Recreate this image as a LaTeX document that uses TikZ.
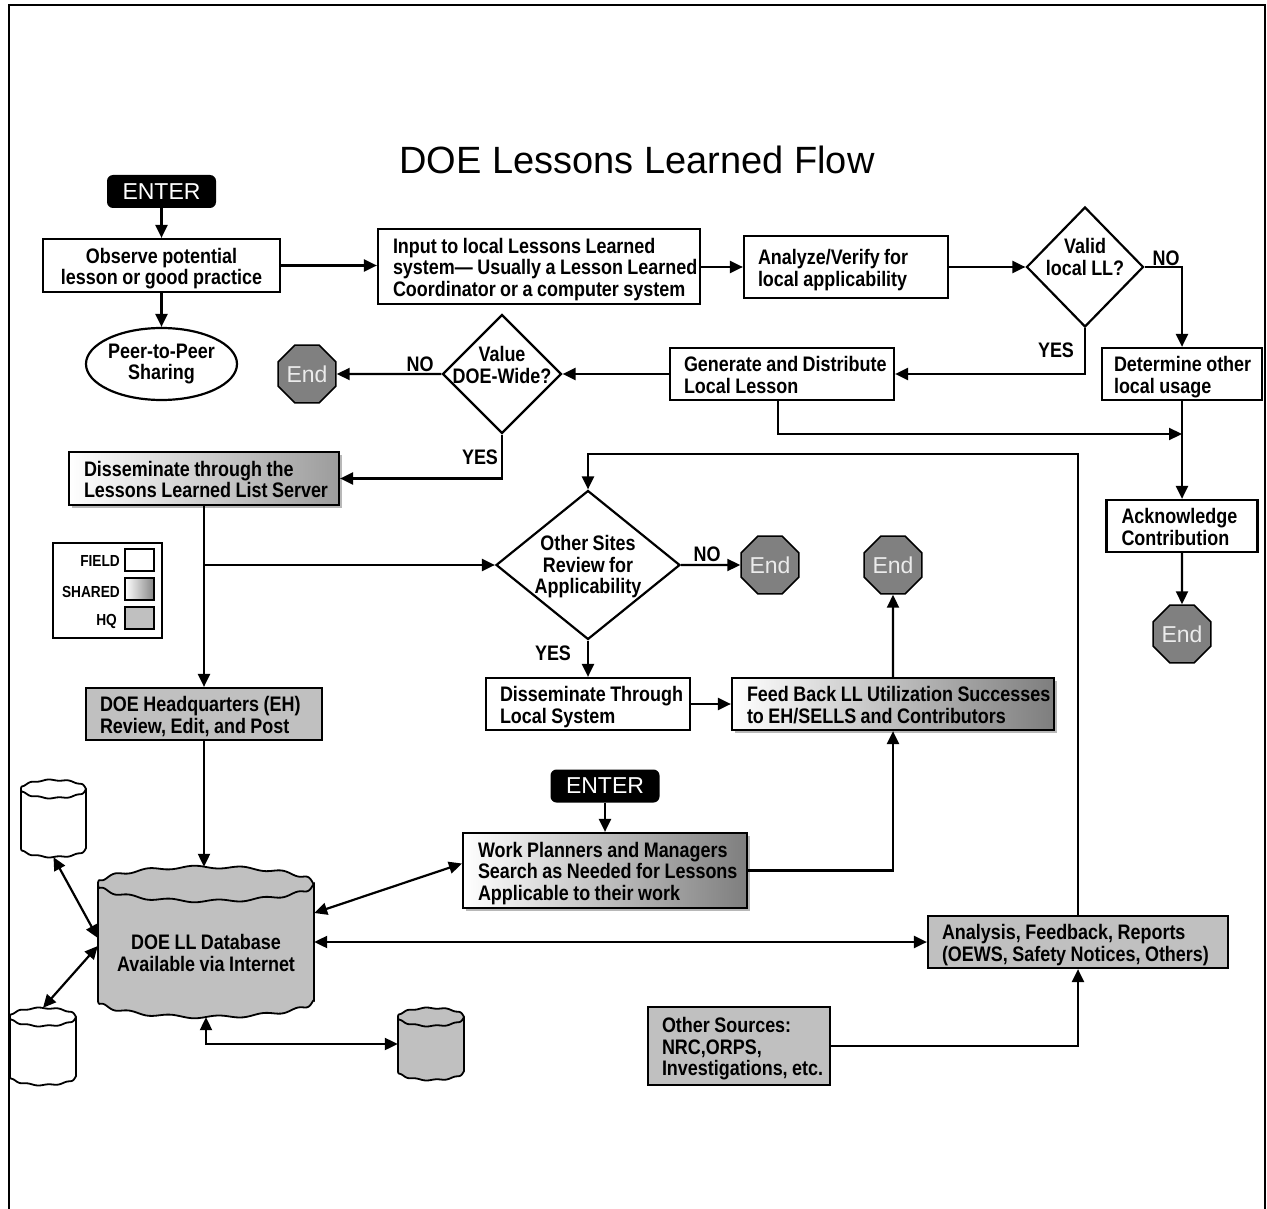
\documentclass[tikz,border=0pt]{standalone}
\usepackage{fontspec}
\setmainfont{Liberation Sans}
\newfontfamily\nar[FakeStretch=0.855,WordSpace=0.9]{Liberation Sans}
\usetikzlibrary{shapes.geometric,arrows.meta,calc,shadows}
\definecolor{gA}{HTML}{C0C0C0}
\definecolor{gB}{HTML}{808080}
\definecolor{gC}{HTML}{7E7E7E}
\definecolor{gD}{HTML}{9C9C9C}
\definecolor{gE}{HTML}{858585}
% left-aligned text block of fixed width
\newcommand\tl[2]{\makebox[#1][l]{\raisebox{-4pt}[\height][\depth]{\begin{tabular}{@{}l@{}}#2\end{tabular}}}}
\newcommand\tc[1]{\raisebox{-4pt}[\height][\depth]{\begin{tabular}{@{}c@{}}#1\end{tabular}}}
% wavy cylinder: cx, top, bottom, rx, ry, fill, wave amplitude, wave frequency
\newcommand\wcyl[8]{%
  \draw[line width=1.8pt, fill=#6] plot[domain=0:180,samples=91] ({#1+#4*cos(\x)},{#2+#5-#5*sin(\x)+#7*sin(#8*\x)})
     -- plot[domain=180:360,samples=91] ({#1+#4*cos(\x)},{#3-#5-#5*sin(\x)+#7*sin(#8*\x)}) -- cycle;
  \draw[line width=1.8pt] plot[domain=180:360,samples=91] ({#1+#4*cos(\x)},{#2+#5-#5*sin(\x)+#7*sin(#8*\x)});
}
\begin{document}
\begin{tikzpicture}[x=1pt,y=-1pt,
  >={Triangle[length=13pt,width=12pt]},
  txt/.style={font=\nar\bfseries\fontsize{21}{21.5}\selectfont},
  box/.style={draw, line width=2.2pt, txt, inner xsep=0pt, inner ysep=0pt},
  shad/.style={drop shadow={shadow xshift=2.5pt, shadow yshift=-2.5pt, fill=gray!70, opacity=0.8}},
  dia/.style={diamond, draw, line width=2.2pt, inner sep=0pt, fill=white},
  endo/.style={regular polygon, regular polygon sides=8, minimum size=59.5pt, inner sep=0pt, draw=black, line width=1.6pt, fill=gB, text=white!92!black, font=\fontsize{23}{23}\selectfont},
  enter/.style={fill=black, rounded corners=6pt, text=white, minimum width=109pt, minimum height=33pt, inner sep=0pt, font=\fontsize{23}{23}\selectfont},
  conn/.style={line width=2.2pt},
  lab/.style={txt, inner sep=0pt},
  legt/.style={font=\nar\bfseries\fontsize{16}{16}\selectfont, inner sep=0pt},
  lbox/.style={draw, line width=1.8pt, minimum width=29pt, minimum height=22pt, inner sep=0pt},
]
\useasboundingbox (0,0) rectangle (1267,1209);
% frame
\draw[line width=2.5pt] (9,1215) -- (9,5) -- (1265,5) -- (1265,1215);

\node[font=\fontsize{38}{38}\selectfont] (title) at (637,160) {DOE Lessons Learned Flow};

% top row
\node[enter] (en1) at (161.5,191.5) {ENTER};
\node[box, minimum width=237pt, minimum height=53pt] (obs) at (161.5,265.5) {\tc{Observe potential\\lesson or good practice}};
\node[ellipse, draw, line width=2.2pt, minimum width=128pt, minimum height=72pt, inner sep=0pt, txt, align=center] (peer) at (161.5,364) {Peer-to-Peer\\Sharing};
\node[box, minimum width=322pt, minimum height=75pt] (inp) at (539,266.5) {\tl{292pt}{Input to local Lessons Learned\\system— Usually a Lesson Learned\\Coordinator or a computer system}};
\node[box, minimum width=204pt, minimum height=62pt] (anl) at (846,267) {\tl{176pt}{Analyze/Verify for\\local applicability}};
\node[dia, minimum width=117pt, minimum height=120pt] (valid) at (1085,267) {};
\node[lab, align=center] (validt) at (1085,257) {Valid\\local LL?};
\node[lab] (no1) at (1166,258) {NO};
\node[lab] (yes1) at (1056,350) {YES};
\node[box, minimum width=160pt, minimum height=52pt] (det) at (1182,374) {\tl{136pt}{Determine other\\local usage}};
\node[box, minimum width=224pt, minimum height=52pt] (gen) at (782,374) {\tl{196pt}{Generate and Distribute\\Local Lesson}};
\node[dia, minimum width=119pt, minimum height=119pt] (value) at (502,374) {};
\node[lab, align=center] (valuet) at (502,365) {Value\\DOE-Wide?};
\node[lab] (no2) at (420,364) {NO};
\node[lab] (yes2) at (480,457) {YES};
\node[endo] (e1) at (307,374) {End};
\coordinate (j1) at (1182,434);
\node[box, minimum width=151pt, minimum height=52pt] (ack) at (1182,526) {\tl{121pt}{Acknowledge\\Contribution}};
\node[endo] (e4) at (1182,634) {End};

% middle
\node[box, shad, minimum width=270pt, minimum height=53pt, left color=white, right color=gD] (dls) at (204,478.5) {\tl{240pt}{Disseminate through the\\Lessons Learned List Server}};

\node[draw, line width=1.8pt, minimum width=109pt, minimum height=95pt, inner sep=0pt] (leg) at (107.5,590.5) {};
\node[lbox, fill=white] (lf) at (139.5,560) {};
\node[lbox, left color=white, right color=gE] (ls) at (139.5,589) {};
\node[lbox, fill=gA] (lh) at (139.5,618) {};
\node[legt, anchor=east] (lft) at (120,561) {FIELD};
\node[legt, anchor=east] (lst) at (120,592) {SHARED};
\node[legt, anchor=east] (lht) at (117,621) {HQ};

\node[dia, minimum width=184pt, minimum height=149pt] (os) at (588,565) {};
\node[lab, align=center] (ost) at (588,567) {Other Sites\\Review for\\Applicability};
\node[lab] (no3) at (707,554) {NO};
\node[lab] (yes3) at (553,653) {YES};
\node[endo] (e2) at (770,565) {End};
\node[endo] (e3) at (893,565) {End};

\node[box, fill=gA, minimum width=236pt, minimum height=52pt] (hq) at (204,714) {\tl{208pt}{DOE Headquarters (EH)\\Review, Edit, and Post}};
\node[box, minimum width=204pt, minimum height=52pt] (dt) at (588,704) {\tl{176pt}{Disseminate Through\\Local System}};
\node[box, shad, minimum width=322pt, minimum height=52pt, left color=white, right color=gC] (feed) at (893,704) {\tl{292pt}{Feed Back LL Utilization Successes\\to EH/SELLS and Contributors}};

% lower
\node[enter] (en2) at (605,786) {ENTER};
\node[box, shad, minimum width=284pt, minimum height=75pt, left color=white, right color=gC] (wp) at (605,870.5) {\tl{254pt}{Work Planners and Managers\\Search as Needed for Lessons\\Applicable to their work}};
\node[box, fill=gA, minimum width=300pt, minimum height=52pt] (ana) at (1078,942) {\tl{272pt}{Analysis, Feedback, Reports\\(OEWS, Safety Notices, Others)}};
\node[box, fill=gA, minimum width=182pt, minimum height=78pt] (src) at (739,1046) {\tl{154pt}{Other Sources:\\NRC,ORPS,\\Investigations, etc.}};

% cylinders
\wcyl{206}{867}{1017}{108}{17}{gA}{1.4}{14}
\wcyl{53.5}{780}{857}{32.5}{9}{white}{0.6}{10}
\wcyl{43}{1008}{1085}{33}{9}{white}{0.6}{10}
\wcyl{431}{1008}{1080}{33}{9}{gA}{0.6}{10}
\node[minimum width=216pt, minimum height=150pt, inner sep=0pt] (db) at (206,942) {};
\node[txt, align=center] (dbt) at (206,953) {DOE LL Database\\Available via Internet};
\node[minimum width=65pt, minimum height=77pt, inner sep=0pt] (c1) at (53.5,818.5) {};
\node[minimum width=66pt, minimum height=77pt, inner sep=0pt] (c2) at (43,1046.5) {};
\node[minimum width=66pt, minimum height=72pt, inner sep=0pt] (c3) at (431,1044) {};

% connectors
\draw[conn,->] (en1.south) -- (obs.north);
\draw[conn,->] (obs.south) -- (peer.north);
\draw[conn,->] (obs.east) -- (obs.east -| inp.west);
\draw[conn,->] (inp.east |- anl.west) -- (anl.west);
\draw[conn,->] (anl.east) -- (valid.west);
\draw[conn,->] (valid.east) -| (det.north);
\draw[conn,->] (valid.south) |- (gen.east);
\draw[conn,->] (gen.west) -- (value.east);
\draw[conn,->] (value.west) -- (e1);
\draw[conn,->] (value.south) |- (dls.east);
\draw[conn,->] ([xshift=-4pt]gen.south) |- (j1);
\draw[conn,->] (det.south) -- (ack.north);
\draw[conn,->] (ack.south) -- (e4);
\draw[conn,->] (dls.south) -- (hq.north);
\coordinate (br) at (dls.south |- os.west);
\draw[conn,->] (br) -- (os.west);
\draw[conn,->] (os.east) -- (e2);
\draw[conn,->] (os.south) -- (dt.north);
\draw[conn,->] (dt.east) -- (feed.west);
\draw[conn,->] (feed.north) -- (e3);
\draw[conn,->] (wp.east) -| (feed.south);
\coordinate (lp) at (588,454);
\draw[conn,->] (ana.north) |- (lp) -- (os.north);
\draw[conn,->] (src.east) -| (ana.south);
\draw[conn,->] (en2.south) -- (wp.north);
\draw[conn,->] (hq.south) -- (hq.south |- db.north);
\draw[conn,<->] (db.east) -- (ana.west);
\draw[conn,<->] (db.15) -- ([yshift=7pt]wp.west);
\draw[conn,<->] (c1.south) -- ([yshift=4pt]db.west);
\draw[conn,<->] (c2.north) -- ([yshift=-4pt]db.west);
\draw[conn,<->] (db.south) |- (c3.west);
\end{tikzpicture}
\end{document}
